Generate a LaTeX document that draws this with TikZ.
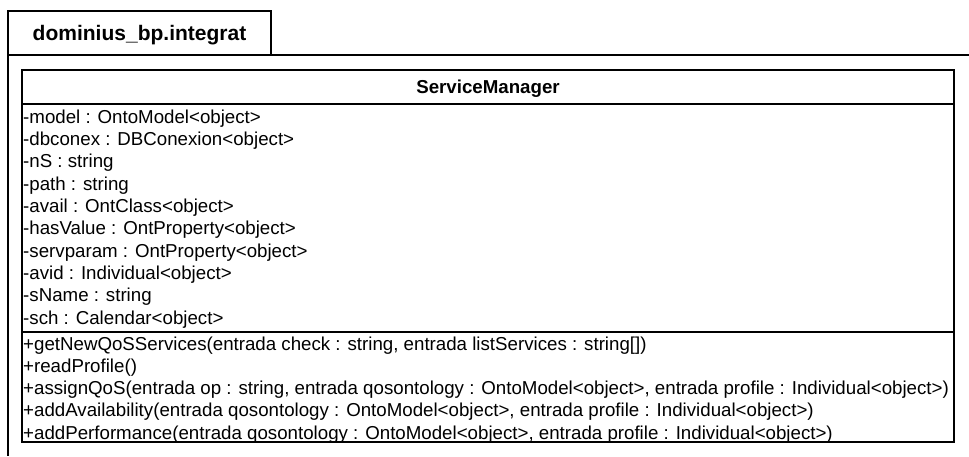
\documentclass[tikz,border=0pt]{standalone}
\usepackage{fontspec}
\setmainfont{Liberation Sans}
\begin{document}
\begin{tikzpicture}[x=1pt,y=-1pt,
  frameline/.style={line width=2.2pt},
  classline/.style={line width=1.3pt},
  member/.style={anchor=base west,inner sep=0pt,font=\fontsize{18.7}{22}\selectfont},
  classname/.style={anchor=base,inner sep=0pt,font=\fontsize{18.7}{22}\selectfont\bfseries},
  pkgname/.style={anchor=base,inner sep=0pt,font=\fontsize{21}{25}\selectfont\bfseries}]
\useasboundingbox (0,0) rectangle (969,456);
% package frame with its tab
\draw[frameline] (8,11) rectangle (271,55);
\draw[frameline] (8,55) -- (969,55);
\draw[line width=2.8pt] (8,11) -- (8,456);
\node[pkgname] (pkg) at (139.5,40) {dominius\_bp.integrat};
% class box
\draw[classline] (22,70) rectangle (954,442);
\draw[line width=2pt] (954,70) -- (954,442) -- (22,442);
\draw[classline] (22,104) -- (954,104);
\draw[classline] (22,332) -- (954,332);
\node[classname] (cname) at (488,93) {ServiceManager};
% attributes
\foreach \t [count=\i from 0] in {%
  -model : OntoModel<object>,
  -dbconex : DBConexion<object>,
  -nS : string,
  -path : string,
  -avail : OntClass<object>,
  -hasValue : OntProperty<object>,
  -servparam : OntProperty<object>,
  -avid : Individual<object>,
  -sName : string,
  -sch : Calendar<object>}
  \node[member] (attr\i) at (23,123+22.35*\i) {\t};
% operations
\node[member] (op0) at (23,350) {+getNewQoSServices(entrada check : string, entrada listServices : string[])};
\node[member] (op1) at (23,372.3) {+readProfile()};
\node[member] (op2) at (23,394.6) {+assignQoS(entrada op : string, entrada qosontology : OntoModel<object>, entrada profile : Individual<object>)};
\node[member] (op3) at (23,416.9) {+addAvailability(entrada qosontology : OntoModel<object>, entrada profile : Individual<object>)};
\node[member] (op4) at (23,439.2) {+addPerformance(entrada qosontology : OntoModel<object>, entrada profile : Individual<object>)};
\end{tikzpicture}
\end{document}
